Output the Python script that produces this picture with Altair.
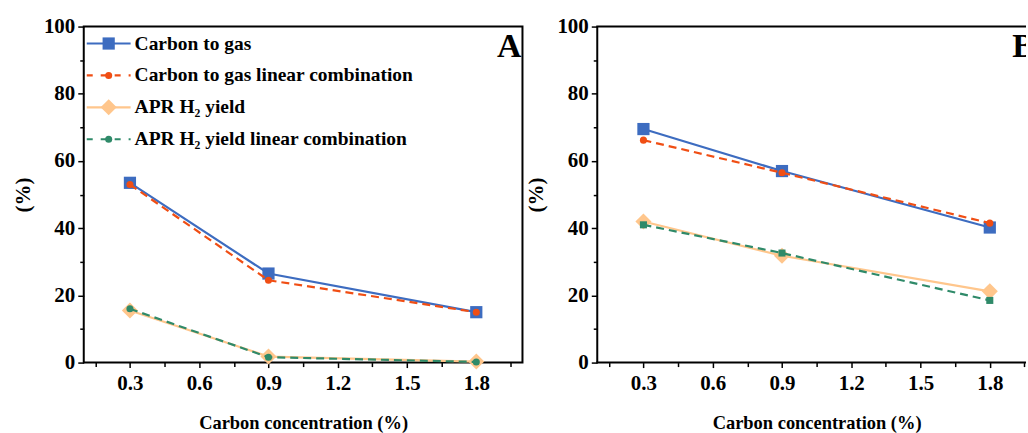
import altair as alt
import pandas as pd

# ---------------- data ----------------
x_vals = [0.3, 0.9, 1.8]
series = [
    "Carbon to gas",
    "Carbon to gas linear combination",
    "APR H₂ yield",
    "APR H₂ yield linear combination",
]
a_ctg = [53.5, 26.5, 15.0]
a_ctg_lc = [53.0, 24.5, 15.0]
a_h2 = [15.5, 1.8, 0.3]
a_h2_lc = [16.0, 1.6, 0.2]

b_ctg = [69.5, 57.0, 40.2]
b_ctg_lc = [66.2, 56.5, 41.5]
b_h2 = [42.0, 31.8, 21.2]
b_h2_lc = [41.0, 32.6, 18.5]

x_major = [0.3, 0.6, 0.9, 1.2, 1.5, 1.8]
x_minor = [0.15, 0.45, 0.75, 1.05, 1.35, 1.65, 1.95]
y_major = [0, 20, 40, 60, 80, 100]
y_minor = [10, 30, 50, 70, 90]

x_title = "Carbon concentration (%)"
y_title = "(%)"

# ---------------- styles ----------------
FONT = "Liberation Serif, Tinos, Times New Roman, DejaVu Serif, serif"
colors = ["#3D6CC0", "#F04E14", "#FFC68C", "#2F8A69"]
dashes = [None, [8, 5], None, [8, 5]]
sizes = [150, 50, 260, 50]
shapes_a = ["square", "circle", "diamond", "circle"]
shapes_b = ["square", "circle", "diamond", "square"]

H = 337
W_A = 440
W_B = 430
PX_PER_UNIT = 440 / 1.9


def scales(width):
    xs = alt.Scale(domain=[0.1, 0.1 + width / PX_PER_UNIT], nice=False, zero=False)
    ys = alt.Scale(domain=[0, 100], nice=False)
    return xs, ys


def axis_layers(xs, ys):
    dummy = pd.DataFrame({"x": [0.3], "v": [0]})
    major = alt.Chart(dummy).mark_point(opacity=0).encode(
        x=alt.X("x:Q", scale=xs, axis=alt.Axis(
            values=x_major, format=".1f", orient="bottom", grid=False, domain=False,
            tickSize=5, tickWidth=1.5, tickColor="black",
            labelFont=FONT, labelFontSize=21, labelFontWeight="bold", labelColor="black",
            labelPadding=5, title=x_title, titleFont=FONT, titleFontSize=18.5,
            titleFontWeight="bold", titleColor="black", titlePadding=20,
            titleX=W_A / 2, titleAnchor="middle")),
        y=alt.Y("v:Q", scale=ys, axis=alt.Axis(
            values=y_major, orient="left", grid=False, domain=False,
            tickSize=6, tickWidth=1.5, tickColor="black",
            labelFont=FONT, labelFontSize=21, labelFontWeight="bold", labelColor="black",
            labelPadding=3, title=y_title, titleFont=FONT, titleFontSize=21,
            titleFontWeight="bold", titleColor="black", titlePadding=10)),
    )
    minor = alt.Chart(dummy).mark_point(opacity=0).encode(
        x=alt.X("x:Q", scale=xs, axis=alt.Axis(
            values=x_minor, orient="bottom", grid=False, domain=False, labels=False,
            tickSize=4, tickWidth=1.5, tickColor="black", title=None)),
        y=alt.Y("v:Q", scale=ys, axis=alt.Axis(
            values=y_minor, orient="left", grid=False, domain=False, labels=False,
            tickSize=4, tickWidth=1.5, tickColor="black", title=None)),
    )
    return [major, minor]


def panel(values, shapes, label, with_legend, width, own_frame):
    xs, ys = scales(width)
    layers = axis_layers(xs, ys)
    one = pd.DataFrame({"k": [0]})
    if own_frame:
        fr = dict(color="black", strokeWidth=2)
        layers.append(alt.Chart(one).mark_rule(**fr).encode(
            x=alt.value(0), y=alt.value(0), y2=alt.value(H)))
        layers.append(alt.Chart(one).mark_rule(**fr).encode(
            x=alt.value(-1), x2=alt.value(width), y=alt.value(0)))
        layers.append(alt.Chart(one).mark_rule(**fr).encode(
            x=alt.value(-1), x2=alt.value(width), y=alt.value(H)))
    for i, s in enumerate(series):
        d = pd.DataFrame({"x": x_vals, "value": values[i], "series": s})
        lk = dict(color=colors[i], strokeWidth=2.2)
        if dashes[i]:
            lk["strokeDash"] = dashes[i]
        enc = dict(
            x=alt.X("x:Q", scale=xs, axis=None),
            y=alt.Y("value:Q", scale=ys, axis=None),
        )
        layers.append(alt.Chart(d).mark_line(**lk).encode(**enc))
        layers.append(
            alt.Chart(d).mark_point(shape=shapes[i], filled=True, opacity=1,
                                    size=sizes[i], color=colors[i]).encode(**enc)
        )
    if with_legend:
        for i, s in enumerate(series):
            yy = 17 + 32 * i
            lk = dict(color=colors[i], strokeWidth=2.2)
            if dashes[i]:
                lk["strokeDash"] = [6, 8]
            layers.append(alt.Chart(one).mark_rule(**lk).encode(
                x=alt.value(3), x2=alt.value(47), y=alt.value(yy)))
            layers.append(alt.Chart(one).mark_point(
                shape=shapes[i], filled=True, opacity=1, size=sizes[i],
                color=colors[i]).encode(x=alt.value(25), y=alt.value(yy)))
            layers.append(alt.Chart(one).mark_text(
                text=s, align="left", baseline="middle", font=FONT, fontSize=19.5,
                fontWeight="bold", color="black").encode(
                x=alt.value(51), y=alt.value(yy)))
    layers.append(alt.Chart(one).mark_text(
        text=label, align="right", baseline="middle", font=FONT, fontSize=34,
        fontWeight="bold", color="black", clip=True).encode(
        x=alt.value(W_A - 1), y=alt.value(21)))
    props = dict(width=width, height=H)
    if own_frame:
        props["view"] = alt.ViewBackground(stroke="transparent")
    return alt.layer(*layers).resolve_axis(x="independent", y="independent").properties(**props)


pa = panel([a_ctg, a_ctg_lc, a_h2, a_h2_lc], shapes_a, "A", True, W_A, False)
pb = panel([b_ctg, b_ctg_lc, b_h2, b_h2_lc], shapes_b, "B", False, W_B, True)

chart = alt.hconcat(pa, pb, spacing=75, bounds="flush").properties(
    padding={"left": 11, "top": 14, "right": 0, "bottom": 8},
    background="white",
).configure_view(stroke="black", strokeWidth=2)

chart.save("out.html", embed_options={"renderer": "svg", "actions": False})
